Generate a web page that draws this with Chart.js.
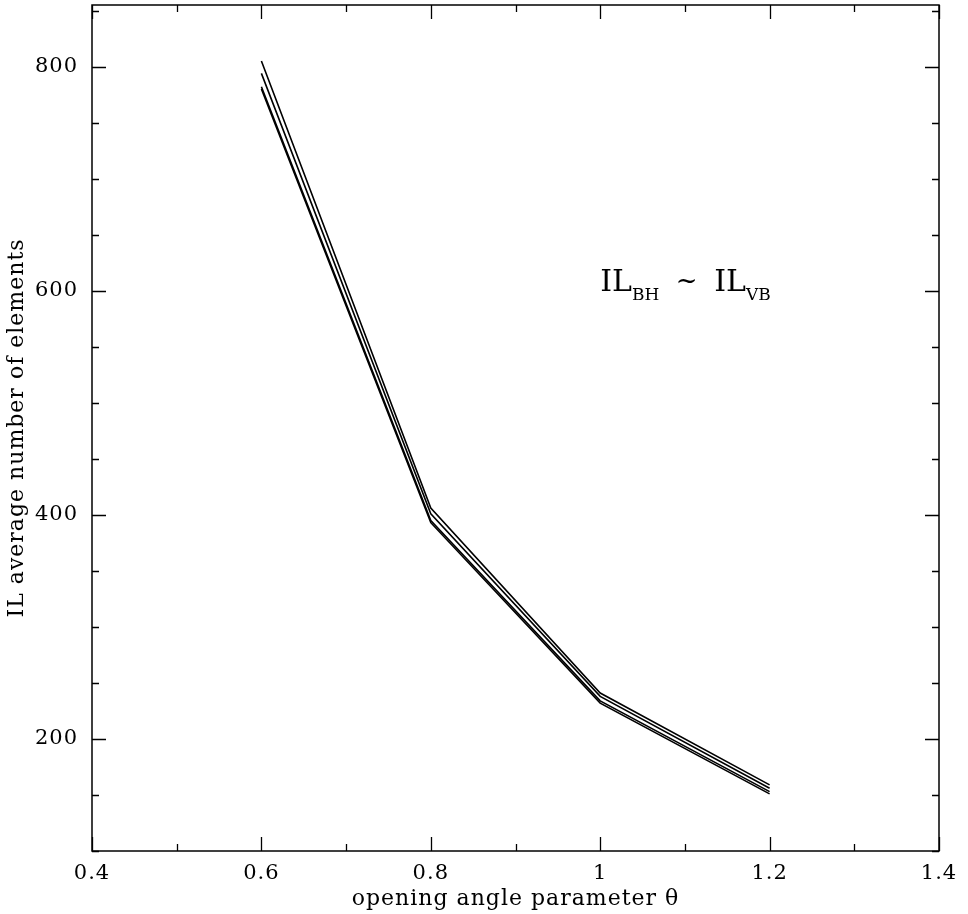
<!DOCTYPE html>
<html>
<head>
<meta charset="utf-8">
<script src="https://cdn.jsdelivr.net/npm/chart.js@4.4.1/dist/chart.umd.min.js"></script>
<style>
  html, body { margin: 0; padding: 0; background: #fff; }
  #wrap { width: 968px; height: 914px; }
</style>
</head>
<body>
<div id="wrap"><canvas id="c" width="968" height="914"></canvas></div>
<script>
// ---- data ----
const thetaValues = [0.6, 0.8, 1.0, 1.2];
const seriesA = [805, 406, 241, 159];
const seriesB = [794, 401, 238, 156];
const seriesC = [782, 395, 234, 153];
const seriesD = [780, 393, 232, 151];
const xTickValues = [0.4, 0.6, 0.8, 1.0, 1.2, 1.4];
const xTickLabels = ["0.4", "0.6", "0.8", "1", "1.2", "1.4"];
const yTickValues = [200, 400, 600, 800];
const yTickLabels = ["200", "400", "600", "800"];
const xRange = [0.4, 1.4];
const yRange = [100, 855];
const xMinorStep = 0.1;
const yMinorStep = 50;
const annotationAnchor = { x: 1.0, y: 600 };

const FONT = "'DejaVu Serif', 'Liberation Serif', serif";

function toPoints(vals) { return thetaValues.map((t, i) => ({ x: t, y: vals[i] })); }

const lineStyle = { borderColor: '#000', borderWidth: 1.6, pointRadius: 0, fill: false, tension: 0 };

const spacingPlugin = {
  id: 'spacing',
  beforeDraw(chart) { chart.ctx.letterSpacing = '1px'; }
};

const framePlugin = {
  id: 'frame',
  afterDraw(chart) {
    const { ctx, chartArea: a, scales: { x, y } } = chart;
    ctx.save();
    ctx.strokeStyle = '#000';
    ctx.lineWidth = 1.5;
    ctx.strokeRect(a.left, a.top, a.right - a.left, a.bottom - a.top);
    ctx.lineWidth = 1.3;
    const majorLen = 14, minorLen = 7;
    for (let v = xRange[0]; v <= xRange[1] + 1e-9; v += xMinorStep) {
      const isMajor = xTickValues.some(t => Math.abs(t - v) < 1e-6);
      const L = isMajor ? majorLen : minorLen;
      const px = Math.round(x.getPixelForValue(v)) + 0.5;
      ctx.beginPath();
      ctx.moveTo(px, a.bottom); ctx.lineTo(px, a.bottom - L);
      ctx.moveTo(px, a.top); ctx.lineTo(px, a.top + L);
      ctx.stroke();
    }
    for (let v = yRange[0]; v <= yRange[1] + 1e-9; v += yMinorStep) {
      const isMajor = yTickValues.includes(v);
      const L = isMajor ? majorLen : minorLen;
      const py = Math.round(y.getPixelForValue(v)) + 0.5;
      ctx.beginPath();
      ctx.moveTo(a.left, py); ctx.lineTo(a.left + L, py);
      ctx.moveTo(a.right, py); ctx.lineTo(a.right - L, py);
      ctx.stroke();
    }
    // annotation IL_BH ~ IL_VB
    let px = x.getPixelForValue(annotationAnchor.x);
    const py = y.getPixelForValue(annotationAnchor.y);
    ctx.fillStyle = '#000';
    ctx.textBaseline = 'alphabetic';
    ctx.textAlign = 'left';
    ctx.letterSpacing = '0px';
    const big = "30px " + FONT, small = "17px " + FONT;
    const parts = [
      { t: "IL", f: big, dy: 0 },
      { t: "BH", f: small, dy: 9 },
      { t: "  ~  ", f: "26px " + FONT, dy: -2 },
      { t: "IL", f: big, dy: 0 },
      { t: "VB", f: small, dy: 9 }
    ];
    for (const p of parts) {
      ctx.font = p.f;
      ctx.fillText(p.t, px, py + p.dy);
      px += ctx.measureText(p.t).width;
    }
    ctx.restore();
  }
};

new Chart(document.getElementById('c'), {
  type: 'line',
  data: {
    datasets: [
      { ...lineStyle, data: toPoints(seriesA) },
      { ...lineStyle, data: toPoints(seriesB) },
      { ...lineStyle, data: toPoints(seriesC) },
      { ...lineStyle, data: toPoints(seriesD) }
    ]
  },
  options: {
    responsive: false,
    animation: false,
    layout: { padding: { top: 5, right: 29, left: 0, bottom: 0 } },
    plugins: { legend: { display: false }, tooltip: { enabled: false } },
    scales: {
      x: {
        type: 'linear',
        min: xRange[0], max: xRange[1],
        grid: { display: false },
        border: { display: false },
        afterBuildTicks: s => { s.ticks = xTickValues.map(v => ({ value: v })); },
        afterFit: s => { s.height = 63; s.paddingLeft = 0; s.paddingRight = 0; },
        ticks: {
          color: '#000', font: { family: FONT, size: 21 }, padding: 2, maxRotation: 0,
          callback: (v) => { const i = xTickValues.findIndex(t => Math.abs(t - v) < 1e-6); return i >= 0 ? xTickLabels[i] : ''; }
        },
        title: { display: true, text: 'opening angle parameter θ', color: '#000', font: { family: FONT, size: 22 }, padding: { top: 0, bottom: 2 } }
      },
      y: {
        type: 'linear',
        min: yRange[0], max: yRange[1],
        grid: { display: false },
        border: { display: false },
        afterBuildTicks: s => { s.ticks = yTickValues.map(v => ({ value: v })); },
        afterFit: s => { s.width = 92; s.paddingTop = 0; s.paddingBottom = 0; },
        ticks: {
          color: '#000', font: { family: FONT, size: 21 }, padding: 6,
          callback: (v) => { const i = yTickValues.indexOf(v); return i >= 0 ? yTickLabels[i] : ''; }
        },
        title: { display: true, text: 'IL average number of elements', color: '#000', font: { family: FONT, size: 22 }, padding: { top: 4, bottom: 0 } }
      }
    }
  },
  plugins: [spacingPlugin, framePlugin]
});
</script>
</body>
</html>
